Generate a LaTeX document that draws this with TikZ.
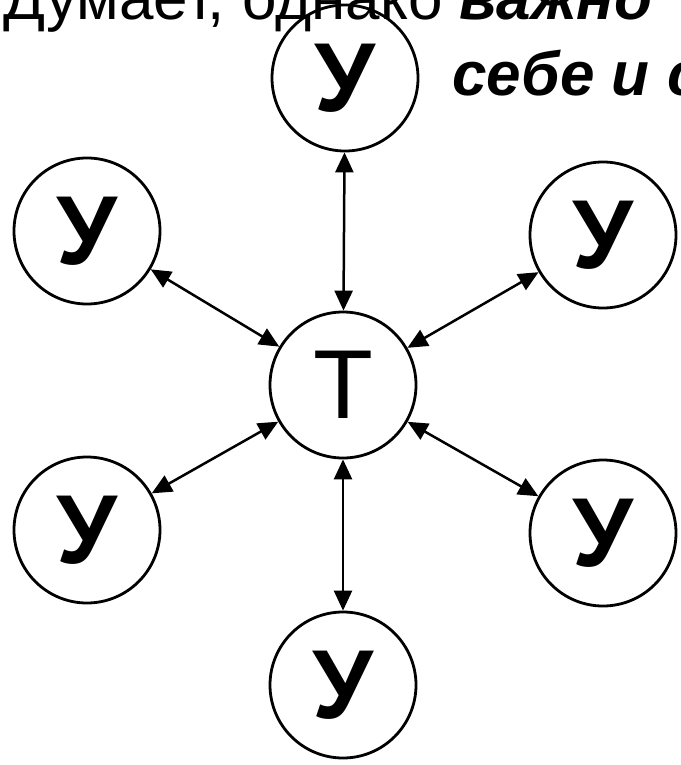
\documentclass[tikz,border=0pt]{standalone}
\usepackage{fontspec}
\setmainfont{Liberation Sans}
\usetikzlibrary{arrows.meta}

\begin{document}
\begin{tikzpicture}[x=1pt,y=-1pt,
    role/.style={circle,draw,line width=2.8pt,minimum size=146pt,inner sep=0pt,
      font=\fontsize{98}{98}\selectfont},
    link/.style={{Triangle[length=20pt,width=18pt]}-{Triangle[length=20pt,width=18pt]},
      line width=2.5pt}]
    \useasboundingbox (0,0) rectangle (680,765);
    \clip (0,0) rectangle (680,765);
    % slide text behind the picture
    \node[anchor=base west,inner sep=0pt,font=\fontsize{62}{70}\selectfont] (line1)
      at (3,20) {Думает, однако \textbf{\textit{важно}}};
    \node[anchor=base west,inner sep=0pt,font=\fontsize{62}{70}\selectfont] (line2)
      at (452,96) {\textbf{\textit{себе и с}}};
    % teacher and pupils
    \node[role] (T) at (343,385) {Т};
    \node[role] (top) at (345,78) {\textbf{У}};
    \node[role] (tl) at (87,231) {\textbf{У}};
    \node[role] (tr) at (603,235) {\textbf{У}};
    \node[role] (bl) at (87,530) {\textbf{У}};
    \node[role] (br) at (603,533) {\textbf{У}};
    \node[role] (bot) at (343,685) {\textbf{У}};
    \foreach \p in {top,tl,tr,bl,br,bot}
      \draw[link] (T) -- (\p);
  \end{tikzpicture}
\end{document}
